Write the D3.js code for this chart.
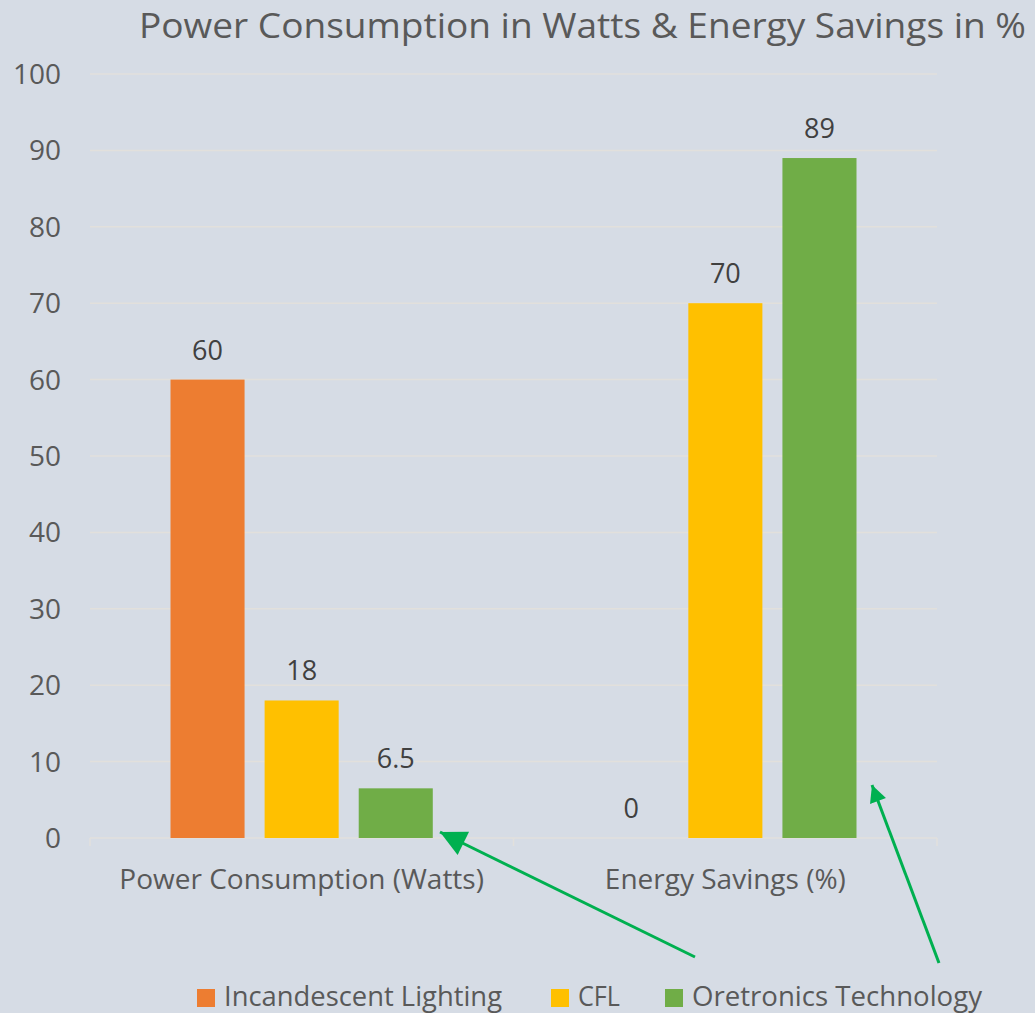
<!DOCTYPE html>
<meta charset="utf-8">
<style>
body { margin: 0; background: #d6dce5; }
svg { display: block; background: #d6dce5; }
text { font-family: "Open Sans", "Noto Sans", sans-serif; fill: #595959; }
.grid line { stroke: #e2e0dc; stroke-width: 1.5px; }
.value { fill: #404040; font-size: 27px; text-anchor: middle; }
.tick-label { font-size: 28px; text-anchor: end; }
.cat-label { font-size: 28px; text-anchor: middle; }
.arrow { stroke: #00b050; stroke-width: 3px; fill: none; }
</style>
<svg width="1035" height="1013"></svg>
<script src="https://cdn.jsdelivr.net/npm/d3@7"></script>
<script>

var categories = ["Power Consumption (Watts)", "Energy Savings (%)"];
var seriesNames = ["Incandescent Lighting", "CFL", "Oretronics Technology"];
var incandescent = [60, 0];
var cfl = [18, 70];
var oretronics = [6.5, 89];
var yTicks = [0, 10, 20, 30, 40, 50, 60, 70, 80, 90, 100];
var colors = ["#ed7d31", "#ffc000", "#70ad47"];

var seriesValues = [incandescent, cfl, oretronics];

var svg = d3.select("svg"),
    plotLeft = 90, plotRight = 937, plotTop = 74, plotBottom = 838;

var x0 = d3.scaleBand()
    .domain(categories)
    .range([plotLeft, plotRight])
    .paddingInner(0.381)
    .paddingOuter(0.19);

var x1 = d3.scaleBand()
    .domain(seriesNames)
    .range([0, x0.bandwidth()])
    .paddingInner(0.213);

var y = d3.scaleLinear()
    .domain([0, 100])
    .range([plotBottom, plotTop]);

// title
svg.append("text")
    .attr("x", 139)
    .attr("y", 38)
    .attr("textLength", 887)
    .attr("lengthAdjust", "spacingAndGlyphs")
    .style("font-size", "35px")
    .text("Power Consumption in Watts & Energy Savings in %");

// gridlines
svg.append("g")
    .attr("class", "grid")
  .selectAll("line")
  .data(yTicks)
  .enter().append("line")
    .attr("x1", plotLeft)
    .attr("x2", plotRight)
    .attr("y1", function(d) { return y(d); })
    .attr("y2", function(d) { return y(d); });

// y tick labels
svg.append("g")
  .selectAll("text")
  .data(yTicks)
  .enter().append("text")
    .attr("class", "tick-label")
    .attr("x", 61)
    .attr("y", function(d) { return y(d) + 10; })
    .text(function(d) { return d; });

// category separators on the x axis
var sep = [plotLeft, (plotLeft + plotRight) / 2, plotRight];
svg.append("g")
    .attr("class", "grid")
  .selectAll("line")
  .data(sep)
  .enter().append("line")
    .attr("x1", function(d) { return d; })
    .attr("x2", function(d) { return d; })
    .attr("y1", plotBottom)
    .attr("y2", plotBottom + 8);

// bars
var groups = svg.append("g")
  .selectAll("g")
  .data(categories)
  .enter().append("g")
    .attr("transform", function(c) { return "translate(" + x0(c) + ",0)"; });

function rows(c, i) {
  return seriesNames.map(function(s, j) { return {s: s, j: j, v: seriesValues[j][i]}; });
}

groups.selectAll("rect")
    .data(rows)
  .enter().append("rect")
    .attr("x", function(d) { return x1(d.s); })
    .attr("width", x1.bandwidth())
    .attr("y", function(d) { return y(d.v); })
    .attr("height", function(d) { return plotBottom - y(d.v); })
    .attr("fill", function(d) { return colors[d.j]; });

groups.selectAll("text")
    .data(rows)
  .enter().append("text")
    .attr("class", "value")
    .attr("x", function(d) { return x1(d.s) + x1.bandwidth() / 2; })
    .attr("y", function(d) { return y(d.v) - 20; })
    .text(function(d) { return d.v; });

// category labels
svg.append("g")
  .selectAll("text")
  .data(categories)
  .enter().append("text")
    .attr("class", "cat-label")
    .attr("x", function(c) { return x0(c) + x0.bandwidth() / 2; })
    .attr("y", 889)
    .text(function(c) { return c; });

// annotation arrows
var defs = svg.append("defs");
function head(id, w, h) {
  defs.append("marker")
      .attr("id", id)
      .attr("viewBox", "0 0 10 10")
      .attr("refX", 10)
      .attr("refY", 5)
      .attr("markerUnits", "userSpaceOnUse")
      .attr("markerWidth", w)
      .attr("markerHeight", h)
      .attr("orient", "auto")
    .append("path")
      .attr("d", "M0,0L10,5L0,10Z")
      .attr("fill", "#00b050");
}
head("head", 28, 26);
head("head2", 18, 17);

svg.append("line")
    .attr("class", "arrow")
    .attr("x1", 695).attr("y1", 957)
    .attr("x2", 440).attr("y2", 832)
    .attr("marker-end", "url(#head)");

svg.append("line")
    .attr("class", "arrow")
    .attr("x1", 939).attr("y1", 963)
    .attr("x2", 872).attr("y2", 785)
    .attr("marker-end", "url(#head2)");

// legend
var legendX = [197, 551, 665];
var legendW = [278, 42, 290];
var legend = svg.append("g")
  .selectAll("g")
  .data(seriesNames)
  .enter().append("g")
    .attr("transform", function(d, i) { return "translate(" + legendX[i] + ",0)"; });

legend.append("rect")
    .attr("y", 989)
    .attr("width", 18)
    .attr("height", 18)
    .attr("fill", function(d, i) { return colors[i]; });

legend.append("text")
    .attr("x", 27)
    .attr("y", 1006)
    .attr("textLength", function(d, i) { return legendW[i]; })
    .attr("lengthAdjust", "spacingAndGlyphs")
    .style("font-size", "28px")
    .text(function(d) { return d; });

</script>
